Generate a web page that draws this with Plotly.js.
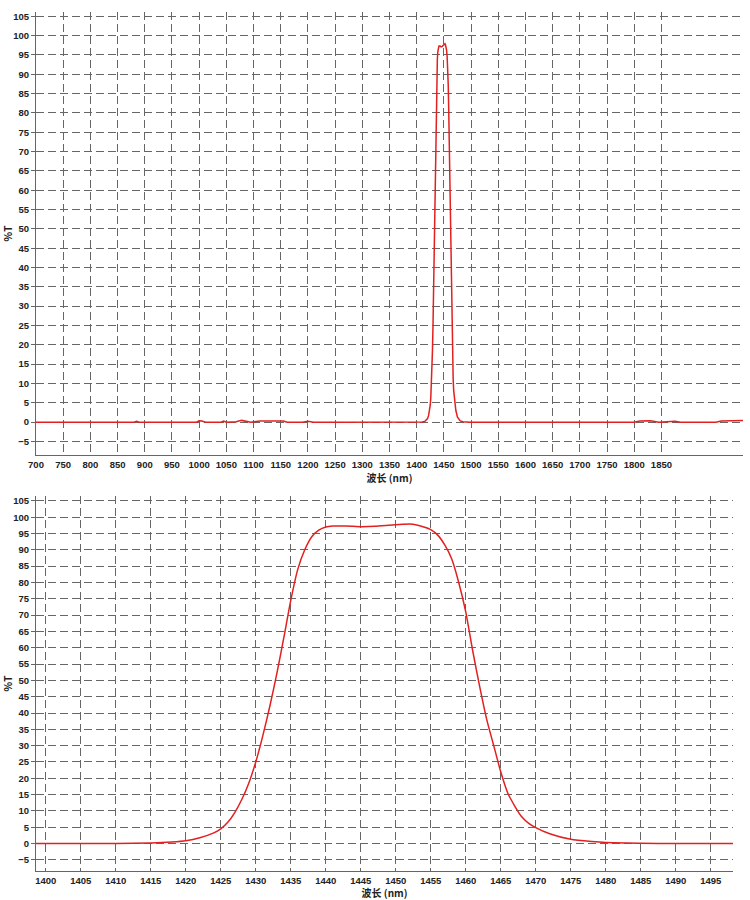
<!DOCTYPE html>
<html>
<head>
<meta charset="utf-8">
<script src="https://cdn.plot.ly/plotly-3.0.1.min.js"></script>
<style>
  html, body { margin: 0; padding: 0; background: #fff; }
  #chart { width: 750px; height: 900px; }
</style>
</head>
<body>
<div id="chart"></div>
<script>
// baseline below the pass band (700 - 1398 nm), small detector noise
var lowWl = [700, 758, 762, 766, 880, 885, 890, 995, 1000, 1005, 1012, 1040, 1045, 1050,
  1068, 1078, 1086, 1095, 1112, 1125, 1140, 1155, 1162, 1190, 1200, 1210, 1240, 1300, 1398];
var lowT = [0, 0, 0.15, 0, 0, 0.2, 0, 0, 0.35, 0.3, 0, 0, 0.3, 0,
  0.1, 0.45, 0.2, 0, 0.3, 0.35, 0.4, 0.3, 0, 0, 0.25, 0, 0, 0, 0];

// pass band
var passWl = [1398.6, 1405, 1410, 1415, 1418, 1420, 1422, 1424, 1425, 1426, 1427, 1428, 1429,
  1430, 1431, 1432, 1433, 1434, 1435, 1436, 1437, 1438, 1439, 1440, 1441, 1443, 1445, 1447,
  1449, 1451, 1452, 1453, 1454, 1455, 1456, 1457, 1458, 1459, 1460, 1461, 1462, 1463, 1464,
  1465, 1466, 1467, 1468, 1469, 1470, 1472, 1475, 1478, 1480, 1485, 1490, 1498.2];
var passT = [0, 0, 0.05, 0.2, 0.5, 0.9, 1.8, 3.3, 4.5, 6.5, 9.5, 13.5, 18.5,
  25, 33, 42, 52, 63, 74.5, 84, 90, 94, 96, 97, 97.3, 97.3, 97.1, 97.2,
  97.5, 97.8, 97.9, 97.6, 97.0, 96.2, 94.5, 91.5, 87.2, 80, 71, 59, 48, 38, 30,
  22, 15.5, 11.5, 8.2, 6.2, 4.9, 3, 1.3, 0.6, 0.3, 0.1, 0, 0];

// baseline above the pass band (1500 - 2000 nm)
var highWl = [1500, 1600, 1700, 1800, 1810, 1820, 1830, 1845, 1855, 1865, 1875, 1885,
  1950, 1960, 1975, 1990, 2000];
var highT = [0, 0, 0, 0, 0.3, 0.25, 0.35, 0, 0.1, 0.3, 0.25, 0,
  0, 0.3, 0.35, 0.4, 0.45];

var fullTicks = [700, 750, 800, 850, 900, 950, 1000, 1050, 1100, 1150, 1200, 1250, 1300,
  1350, 1400, 1450, 1500, 1550, 1600, 1650, 1700, 1750, 1800, 1850];
var zoomTicks = [1400, 1405, 1410, 1415, 1420, 1425, 1430, 1435, 1440, 1445, 1450, 1455,
  1460, 1465, 1470, 1475, 1480, 1485, 1490, 1495];
var pctTicks = [-5, 0, 5, 10, 15, 20, 25, 30, 35, 40, 45, 50, 55, 60, 65, 70, 75, 80, 85,
  90, 95, 100, 105];

var lineRed = 'rgb(226,32,32)';
var tickFont = {family: 'Liberation Sans Narrow, Liberation Sans, Arial', size: 9.5, color: '#222', weight: 'bold'};
var titleFont = {family: 'Noto Sans CJK SC, Liberation Sans', size: 10, color: '#222', weight: 'bold'};
var gridGrey = '#666';

var trace1 = {
  x: lowWl.concat(passWl, highWl),
  y: lowT.concat(passT, highT),
  type: 'scatter',
  mode: 'lines',
  line: {color: lineRed, width: 1.5},
  xaxis: 'x',
  yaxis: 'y',
  hoverinfo: 'x+y'
};
var trace2 = {
  x: passWl,
  y: passT,
  type: 'scatter',
  mode: 'lines',
  line: {color: lineRed, width: 1.5, shape: 'spline', smoothing: 0.6},
  xaxis: 'x2',
  yaxis: 'y2',
  hoverinfo: 'x+y'
};

function xAxis(range, ticks, anchor, domain) {
  return {
    range: range,
    domain: domain,
    anchor: anchor,
    tickmode: 'array',
    tickvals: ticks,
    ticks: 'outside',
    ticklen: 1,
    tickcolor: 'rgba(0,0,0,0)',
    tickfont: tickFont,
    showgrid: true,
    gridcolor: gridGrey,
    gridwidth: 1,
    griddash: '8px,4px',
    zeroline: false,
    showline: true,
    linecolor: '#666',
    linewidth: 1,
    title: {text: '波长 (nm)', font: titleFont, standoff: 1}
  };
}
function yAxis(range, anchor, domain) {
  return {
    range: range,
    domain: domain,
    anchor: anchor,
    tickmode: 'array',
    tickvals: pctTicks,
    ticks: 'outside',
    ticklen: 4,
    tickcolor: '#666',
    tickfont: tickFont,
    showgrid: true,
    gridcolor: gridGrey,
    gridwidth: 1,
    griddash: '8px,4px',
    zeroline: false,
    showline: true,
    linecolor: '#666',
    linewidth: 1,
    title: {text: '%T', font: titleFont, standoff: 3}
  };
}

var layout = {
  width: 750,
  height: 900,
  margin: {l: 36, r: 7, t: 12, b: 29},
  paper_bgcolor: '#fff',
  plot_bgcolor: '#fff',
  showlegend: false,
  xaxis: xAxis([700, 2000], fullTicks, 'y', [0, 1]),
  yaxis: yAxis([-8.5, 106.1], 'x', [0.4843, 1]),
  xaxis2: xAxis([1398.6, 1498.2], zoomTicks, 'y2', [0, 0.986]),
  yaxis2: yAxis([-8.4, 106.5], 'x2', [0, 0.4366])
};

Plotly.newPlot('chart', [trace1, trace2], layout, {displayModeBar: false, staticPlot: true});
</script>
</body>
</html>
